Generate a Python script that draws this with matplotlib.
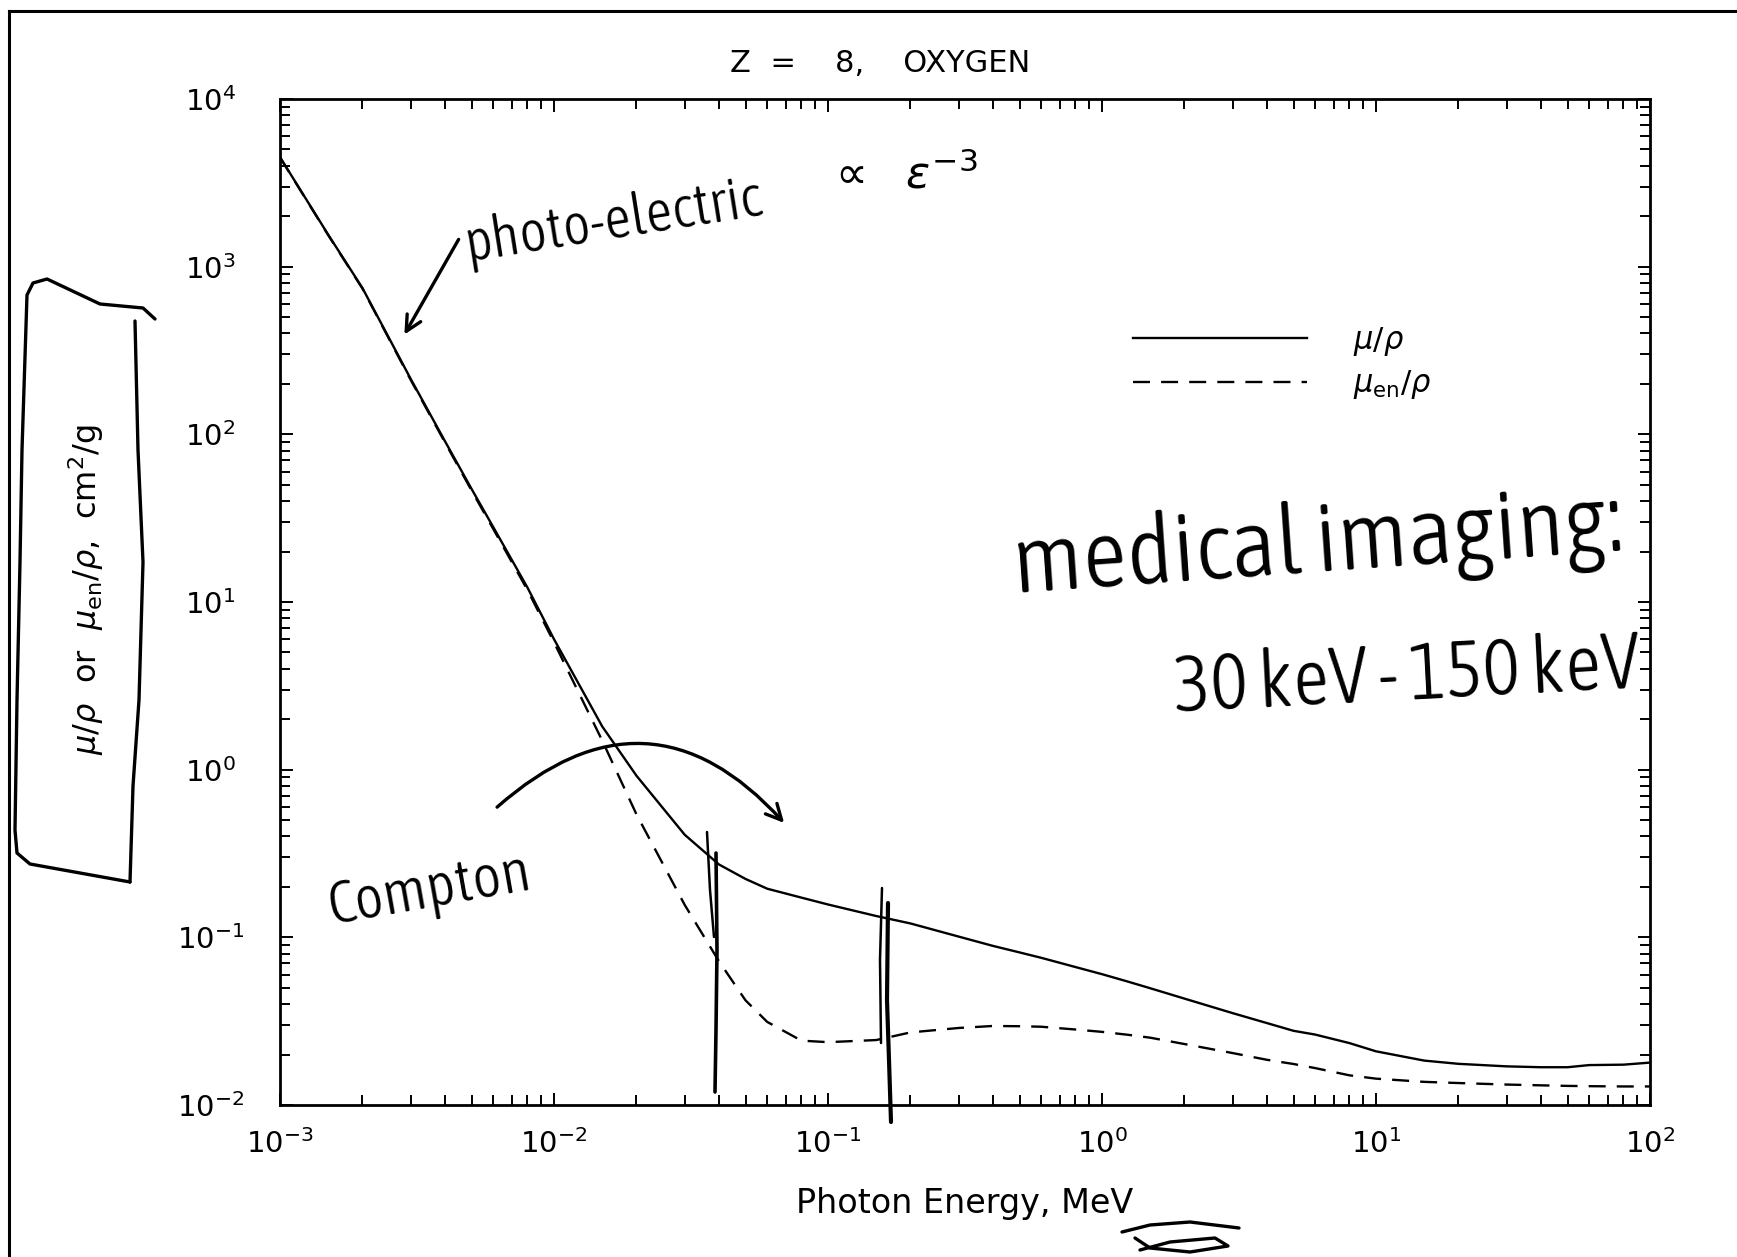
import numpy as np
import matplotlib
matplotlib.use('Agg')
import matplotlib.pyplot as plt
from matplotlib import font_manager
from matplotlib.lines import Line2D
from matplotlib.patches import FancyArrowPatch
from matplotlib.ticker import FixedLocator, NullFormatter, LogFormatterSciNotation

# ---------------- data ----------------
energy_mev = [1e-3, 1.5e-3, 2e-3, 3e-3, 4e-3, 5e-3, 6e-3, 8e-3, 1e-2, 1.5e-2,
              2e-2, 3e-2, 4e-2, 5e-2, 6e-2, 8e-2, 0.1, 0.15, 0.2, 0.3,
              0.4, 0.5, 0.6, 0.8, 1.0, 1.25, 1.5, 2.0, 3.0, 4.0,
              5.0, 6.0, 8.0, 10.0, 15.0, 20.0, 30.0, 40.0, 50.0, 60.0,
              80.0, 100.0]
mu_rho = [4500, 1550, 745, 214, 91, 47.3, 28.0, 12.2, 6.0, 1.81,
          0.92, 0.409, 0.272, 0.223, 0.195, 0.1725, 0.157, 0.134, 0.121, 0.101,
          0.0889, 0.0813, 0.0755, 0.0665, 0.0603, 0.0543, 0.0497, 0.0431, 0.0353, 0.0308,
          0.0277, 0.0263, 0.0234, 0.0209, 0.0184, 0.0176, 0.0170, 0.0168, 0.0168, 0.0173,
          0.0174, 0.0179]
mu_en_rho = [4480, 1540, 740, 211, 89.5, 46.3, 27.3, 11.8, 5.75, 1.49,
             0.541, 0.156, 0.0720, 0.0421, 0.0313, 0.0242, 0.0237, 0.0244, 0.0271, 0.0288,
             0.0296, 0.0295, 0.0293, 0.0282, 0.0273, 0.0262, 0.0252, 0.0231, 0.0204, 0.0186,
             0.01756, 0.0166, 0.01503, 0.01436, 0.01374, 0.01352, 0.01324, 0.0131, 0.0130, 0.01295,
             0.0129, 0.0129]

title_text = "Z  =    8,    OXYGEN"
x_label = "Photon Energy, MeV"
y_label = r"$\mu/\rho$  or  $\mu_{\mathrm{en}}/\rho$,  cm$^2$/g"
legend_labels = [r"$\mu/\rho$", r"$\mu_{\mathrm{en}}/\rho$"]
x_decades = [-3, -2, -1, 0, 1, 2]
y_decades = [-2, -1, 0, 1, 2, 3, 4]

note_photo = "photo-electric"
note_power = r"$\propto\ \ \varepsilon^{-3}$"
note_med1 = "medical imaging:"
note_med2 = "30 keV - 150 keV"
note_compton = "Compton"

# ---------------- figure ----------------
W, H, DPI = 1737, 1257, 100
plt.rcParams['font.family'] = ['DejaVu Sans']
plt.rcParams['mathtext.fontset'] = 'dejavusans'
fig = plt.figure(figsize=(W / DPI, H / DPI), dpi=DPI, facecolor='white')


def fx(x):
    return x / W


def fy(y):
    return 1 - y / H


L, R, T, B = 280, 1650, 99, 1105
ax = fig.add_axes([fx(L), fy(B), (R - L) / W, (B - T) / H])
ax.set_xscale('log')
ax.set_yscale('log')

line_mu, = ax.plot(energy_mev, mu_rho, color='black', lw=1.7)
line_en, = ax.plot(energy_mev, mu_en_rho, color='black', lw=1.7, dashes=(7.2, 4.7))
ax.set_xlim(10.0 ** x_decades[0], 10.0 ** x_decades[-1])
ax.set_ylim(10.0 ** y_decades[0], 10.0 ** y_decades[-1])


def set_log_ticks(axis, decades):
    major = [10.0 ** d for d in decades]
    minor = [m * 10.0 ** d for d in decades[:-1] for m in range(2, 10)]
    axis.set_major_locator(FixedLocator(major))
    axis.set_minor_locator(FixedLocator(minor))
    axis.set_major_formatter(LogFormatterSciNotation())
    axis.set_minor_formatter(NullFormatter())


set_log_ticks(ax.xaxis, x_decades)
set_log_ticks(ax.yaxis, y_decades)

ax.tick_params(which='both', direction='in', top=True, right=True, width=1.4, color='black')
ax.tick_params(which='major', length=9, labelsize=21)
ax.tick_params(which='minor', length=7)
ax.tick_params(axis='x', which='major', pad=17)
ax.tick_params(axis='y', which='major', pad=50)
for lab in ax.get_yticklabels():
    lab.set_ha('center')
for sp in ax.spines.values():
    sp.set_linewidth(2.0)

ax.set_xlabel(x_label, fontsize=24)
ax.xaxis.label.set_va('center')
ax.xaxis.set_label_coords(0.5, -(1204 - B) / (B - T))
ax.set_ylabel(y_label, fontsize=23)
ax.yaxis.label.set_va('center')
ax.yaxis.label.set_ha('center')
ax.yaxis.set_label_coords((86 - L) / (R - L), (B - 590) / (B - T))

fig.text(fx(880), fy(63), title_text, fontsize=22, ha='center', va='center')

ax.legend([line_mu, line_en], legend_labels, loc='center left',
          bbox_to_anchor=(fx(1133), fy(363)), bbox_transform=fig.transFigure,
          frameon=False, fontsize=22, handlelength=5.7, handletextpad=1.5,
          labelspacing=0.35, borderpad=0, borderaxespad=0)

# outer frame (only top and left edges are inside the image)
fig.add_artist(Line2D([fx(9), fx(W + 20)], [fy(11), fy(11)], transform=fig.transFigure,
                      color='black', lw=2.2))
fig.add_artist(Line2D([fx(9), fx(9)], [fy(11), fy(H + 20)], transform=fig.transFigure,
                      color='black', lw=2.2))

# ---------------- hand-written annotations ----------------
def _w(f):
    w = f.weight
    if isinstance(w, str):
        w = font_manager.weight_dict.get(w, 400)
    return w


def pick_hand_font():
    cands = []
    for f in font_manager.fontManager.ttflist:
        if f.style != 'normal':
            continue
        narrow = ('Narrow' in f.name or 'Condensed' in f.name
                  or str(f.stretch) in ('condensed', 'semi-condensed', 'extra-condensed'))
        pref = f.name in ('Lato', 'Open Sans', 'Roboto', 'Inter', 'Noto Sans', 'DejaVu Sans',
                          'Liberation Sans Narrow', 'Roboto Condensed')
        if not (narrow or pref):
            continue
        wt = _w(f)
        score = (0 if narrow else 1) * 1000 + abs(wt - 300)
        cands.append((score, f.fname))
    if cands:
        cands.sort()
        return font_manager.FontProperties(fname=cands[0][1])
    return font_manager.FontProperties(family='DejaVu Sans')


hand_fp = pick_hand_font()
renderer = fig.canvas.get_renderer()


def hand_text(s, cx, cy, width, rot, fp=None):
    t = fig.text(fx(cx), fy(cy), s, ha='center', va='center',
                 fontproperties=fp if fp is not None else hand_fp)
    t.set_fontsize(40)
    w = t.get_window_extent(renderer).width
    t.set_fontsize(40 * width / w)
    t.set_rotation(rot)
    t.set_rotation_mode('anchor')
    return t


hand_text(note_photo, 614, 222, 299, 9)
hand_text(note_power, 902, 175, 150, 0, fp=font_manager.FontProperties(family='DejaVu Sans'))
hand_text(note_med1, 1318, 545, 610, 4)
hand_text(note_med2, 1407, 678, 466, 3)
hand_text(note_compton, 430, 890, 205, 10)


def stroke(pts, lw=2.4):
    xs = [fx(p[0]) for p in pts]
    ys = [fy(p[1]) for p in pts]
    fig.add_artist(Line2D(xs, ys, transform=fig.transFigure, color='black', lw=lw,
                          solid_capstyle='round', solid_joinstyle='round'))


# box around the y label
stroke([(155, 319), (143, 308), (100, 304), (47, 279), (33, 283), (27, 295), (22, 450),
        (20, 562), (17, 700), (15, 830), (17, 853), (30, 864), (80, 873), (130, 882)])
stroke([(135, 321), (138, 450), (143, 562), (139, 700), (133, 786), (130, 882)])

# vertical marks at ~30 keV and ~150 keV
stroke([(707, 832), (710, 890), (714, 937)], lw=1.8)
stroke([(716, 853), (717, 950), (716, 1030), (715, 1092)], lw=2.6)
stroke([(882, 888), (880, 960), (881, 1043)], lw=1.8)
stroke([(888, 903), (887, 1000), (889, 1060), (891, 1122)], lw=3.0)

# squiggle under MeV
stroke([(1122, 1232), (1150, 1225), (1190, 1222), (1239, 1228)], lw=2.4)
stroke([(1135, 1238), (1150, 1248), (1190, 1252), (1228, 1246), (1215, 1238),
        (1170, 1242), (1140, 1250)], lw=2.4)

# arrows
fig.add_artist(FancyArrowPatch((fx(460), fy(237)), (fx(403), fy(337)),
                               transform=fig.transFigure, arrowstyle='->',
                               mutation_scale=28, lw=2.4, color='black'))
fig.add_artist(FancyArrowPatch((fx(495), fy(809)), (fx(786), fy(825)),
                               transform=fig.transFigure, arrowstyle='->',
                               connectionstyle='arc3,rad=-0.5',
                               mutation_scale=28, lw=2.4, color='black'))

fig.savefig('out.png', dpi=DPI, facecolor='white')
